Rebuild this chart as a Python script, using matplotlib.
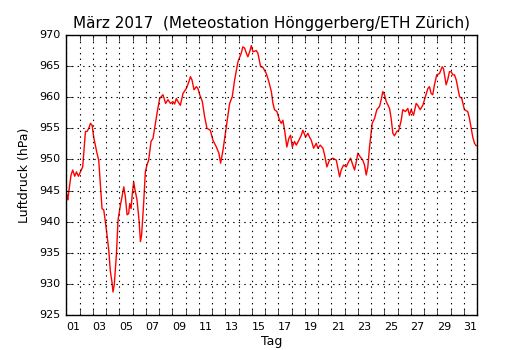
import matplotlib
matplotlib.use("Agg")
import matplotlib.pyplot as plt
import numpy as np

# days since 1 March 00:00 and pressure (hPa)
days = [0.06, 0.11, 0.36, 0.49, 0.64, 0.77, 0.92, 1.07, 1.24, 1.45, 1.57, 1.70,
        1.83, 1.95, 2.07, 2.32, 2.45, 2.70, 2.83, 3.03, 3.21, 3.33, 3.45, 3.53,
        3.63, 3.79, 3.91, 4.09, 4.21, 4.34, 4.46, 4.59, 4.71, 4.79, 4.89, 4.99,
        5.09, 5.19, 5.34, 5.49, 5.60, 5.69, 5.84, 5.97, 6.09, 6.22, 6.40, 6.55,
        6.73, 6.85, 7.05, 7.18, 7.30, 7.50, 7.68, 7.86, 8.05, 8.18, 8.31, 8.43,
        8.61, 8.81, 9.06, 9.26, 9.37, 9.49, 9.64, 9.82, 9.94, 10.07, 10.27, 10.44,
        10.62, 10.87, 11.07, 11.33, 11.52, 11.65, 11.83, 12.08, 12.33, 12.53, 12.71,
        12.96, 13.21, 13.33, 13.46, 13.59, 13.71, 13.84, 13.97, 14.09, 14.34, 14.46,
        14.67, 14.84, 15.10, 15.29, 15.48, 15.60, 15.72, 15.90, 16.10, 16.23, 16.35,
        16.48, 16.65, 16.80, 16.93, 17.06, 17.23, 17.36, 17.56, 17.74, 17.86, 18.06,
        18.24, 18.36, 18.49, 18.67, 18.87, 18.99, 19.17, 19.37, 19.50, 19.67, 19.87,
        20.12, 20.38, 20.50, 20.63, 20.75, 20.93, 21.13, 21.30, 21.46, 21.58, 21.76,
        21.89, 22.01, 22.19, 22.38, 22.51, 22.64, 22.76, 22.89, 23.09, 23.27, 23.44,
        23.64, 23.77, 23.89, 24.02, 24.15, 24.40, 24.52, 24.65, 24.77, 24.95, 25.10,
        25.28, 25.40, 25.60, 25.78, 25.90, 26.03, 26.21, 26.41, 26.53, 26.71, 26.91,
        27.11, 27.29, 27.41, 27.54, 27.66, 27.79, 27.96, 28.17, 28.37, 28.47, 28.67,
        28.79, 28.92, 29.05, 29.17, 29.30, 29.43, 29.68, 29.85, 30.05, 30.30, 30.43,
        30.68, 30.81, 30.94]
pressure = [944.3, 943.5, 947.5, 948.3, 947.3, 948.0, 947.3, 948.0, 948.8, 954.5, 954.5, 955.0,
            955.8, 955.5, 953.6, 951.0, 949.9, 942.1, 941.9, 938.7, 935.4, 932.0, 930.3, 928.7,
            930.0, 934.9, 940.3, 942.7, 944.0, 945.6, 944.0, 941.1, 941.3, 942.9, 942.1, 944.6,
            946.4, 945.1, 943.5, 940.3, 936.8, 937.9, 942.9, 948.0, 949.1, 949.9, 952.9, 953.4,
            955.8, 957.4, 959.8, 960.1, 960.4, 959.0, 959.6, 959.0, 959.3, 958.9, 959.8, 959.3,
            958.7, 960.6, 961.4, 962.5, 963.3, 962.8, 961.2, 961.7, 961.4, 960.4, 959.3, 956.9,
            955.0, 954.7, 953.1, 952.0, 951.0, 949.4, 951.5, 955.3, 959.0, 960.1, 962.8,
            965.7, 967.1, 968.1, 967.9, 967.1, 966.5, 967.3, 968.3, 967.3, 967.5, 967.1,
            964.9, 964.8, 963.8, 962.5, 960.9, 959.0, 958.0, 957.7, 956.3, 955.8, 956.3,
            954.7, 952.0, 953.4, 953.9, 952.0, 952.9, 952.3, 953.1, 953.9, 954.7, 953.6,
            954.2, 953.6, 953.1, 951.8, 952.6, 951.8, 952.3, 951.8, 950.7, 948.8, 949.9,
            950.2, 949.9, 948.6, 947.2, 948.3, 949.1, 948.8, 949.6, 950.2, 949.4, 948.3,
            949.6, 951.0, 950.4, 949.9, 949.1, 947.5, 948.8, 952.0, 955.8, 956.6, 958.0,
            958.5, 959.6, 960.9, 960.4, 959.3, 958.2, 956.6, 954.2, 953.8, 954.5, 954.7,
            956.3, 958.0, 957.7, 958.2, 957.1, 958.0, 957.1, 959.0, 958.7, 958.0, 958.7,
            960.1, 961.4, 961.7, 960.6, 960.4, 962.0, 963.6, 963.8, 964.9, 964.6, 962.0,
            962.8, 964.1, 964.1, 963.6, 963.6, 962.8, 960.1, 959.8, 958.0, 957.7, 956.6,
            953.6, 952.6, 952.2]

day_labels = ["%02d" % d for d in range(1, 32, 2)]

plt.style.use("classic")
fig = plt.figure(figsize=(5.3, 3.5), dpi=100, facecolor="white")
ax = fig.add_axes([0.125, 0.1, 0.775, 0.8])

ax.plot(days, pressure, color="red", lw=1.0)

ax.set_xlim(0, 31)
ax.set_ylim(925, 970)
ax.set_yticks(np.arange(925, 971, 5))

# major ticks at midnight (grid), labels at noon on odd days
ax.set_xticks(np.arange(0, 32, 1))
ax.set_xticklabels([])
ax.set_xticks([d - 0.5 for d in range(1, 32, 2)], minor=True)
ax.set_xticklabels(day_labels, minor=True)
ax.tick_params(axis="x", which="minor", length=0, labelsize=8, pad=5)
ax.tick_params(axis="y", labelsize=8)
ax.tick_params(which="major", length=4)

ax.grid(True, which="major", color="black", linestyle=":", linewidth=0.8)

ax.set_title("März 2017  (Meteostation Hönggerberg/ETH Zürich)", fontsize=11)
ax.set_xlabel("Tag", fontsize=9, labelpad=2)
ax.set_ylabel("Luftdruck (hPa)", fontsize=9, labelpad=6)

fig.savefig("out.png", dpi=100, facecolor="white")
